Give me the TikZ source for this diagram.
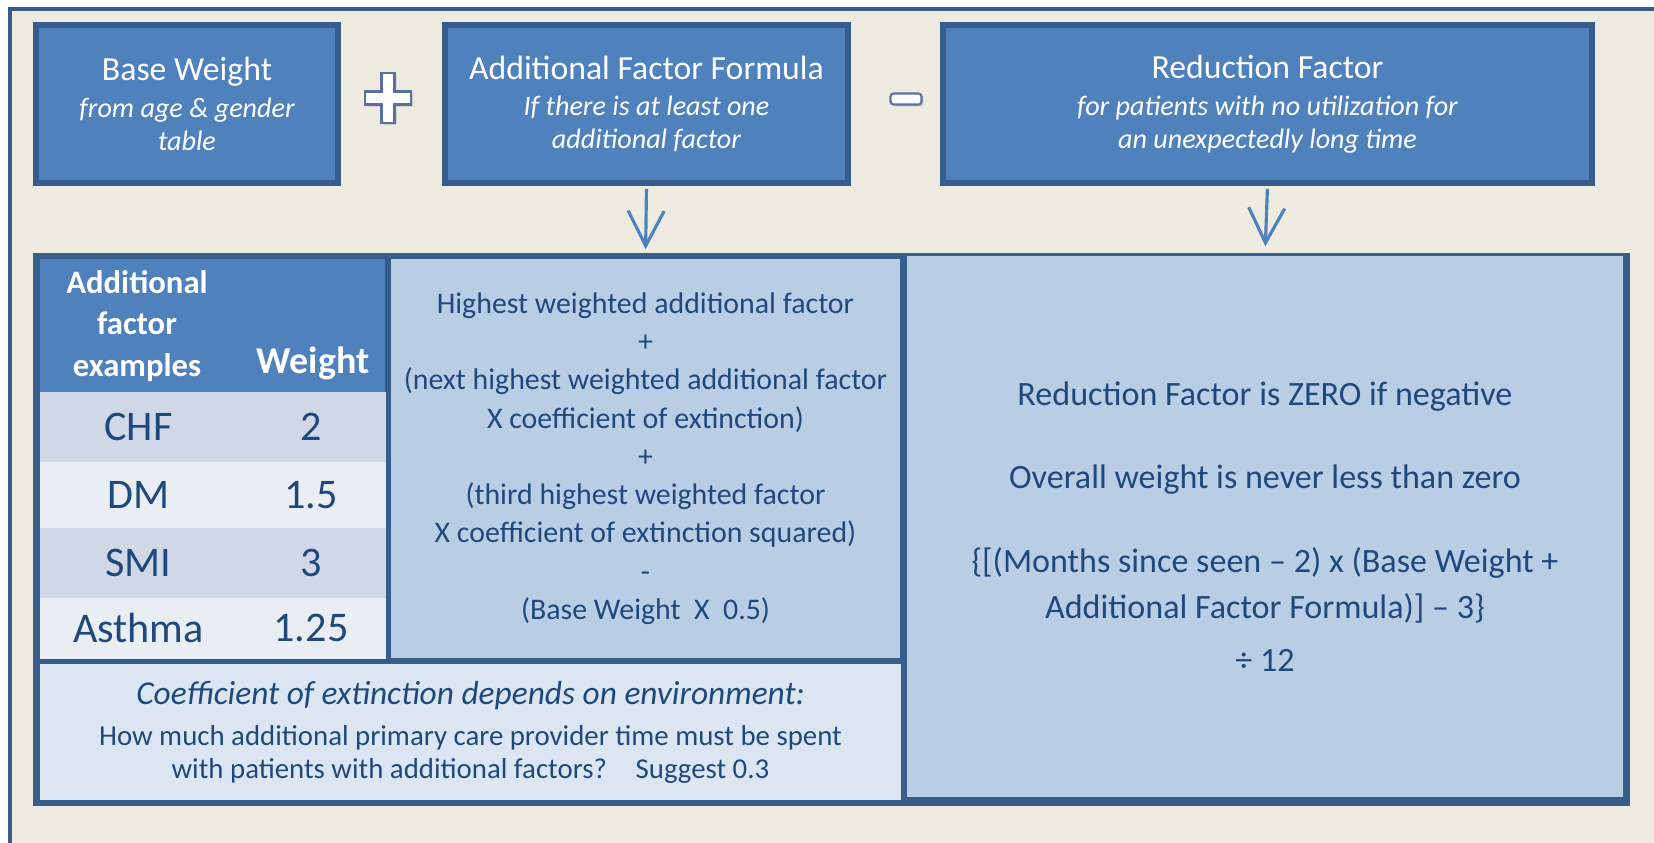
\documentclass[tikz,border=0pt]{standalone}
\usepackage{fontspec}
\setmainfont{Carlito}
\usepackage{tikz}
\usetikzlibrary{arrows.meta,shadows}

\definecolor{bgbeige}{HTML}{EEECE1}
\definecolor{edgeblue}{HTML}{385D8A}
\definecolor{boxblue}{HTML}{4F81BD}
\definecolor{paleblue}{HTML}{B9CDE5}
\definecolor{rowdark}{HTML}{D0D8E8}
\definecolor{rowlight}{HTML}{E9EDF4}
\definecolor{notefill}{HTML}{DCE6F2}
\definecolor{inkblue}{HTML}{1F497D}
\definecolor{signedge}{HTML}{5A6FA5}

\begin{document}
\begin{tikzpicture}[>={Straight Barb[length=3.5mm,width=3.6mm]},
    topbox/.style={draw=edgeblue,fill=boxblue,line width=1.7pt,text=white,align=center,
      inner sep=0pt,minimum height=1.58cm,font=\fontsize{8}{9.4}\selectfont},
    cell/.style={inner sep=0pt,text=inkblue,align=center},
    rowcell/.style={cell,font=\fontsize{12}{14}\selectfont},
    sign/.style={draw=signedge,fill=white,line width=0.6pt,
      drop shadow={shadow xshift=0.2mm,shadow yshift=-0.2mm,fill=gray!60}},
    flow/.style={->,boxblue,line width=0.9pt,shorten <=0.03cm,shorten >=0.09cm}]

    \clip (0,0) rectangle (16.54,8.42);
    \fill[white] (0,0) rectangle (16.54,8.42);
    \draw[edgeblue,fill=bgbeige,line width=1.1pt] (0.10,-0.5) rectangle (17,8.33);

    % the three terms of the weight
    \node[topbox,minimum width=3.02cm] (base) at (1.87,7.38)
      {{\fontsize{9.6}{9.4}\selectfont Base Weight}\\[1pt]
       \itshape from age \& gender\\\itshape table};
    \node[topbox,minimum width=4.03cm] (addf) at (6.465,7.38)
      {{\fontsize{9.6}{9.4}\selectfont Additional Factor Formula}\\[1pt]
       \itshape If there is at least one\\\itshape additional factor};
    \node[topbox,minimum width=6.49cm] (redf) at (12.675,7.38)
      {{\fontsize{9.6}{9.4}\selectfont Reduction Factor}\\[1pt]
       \itshape for patients with no utilization for\\\itshape an unexpectedly long time};

    \coordinate (plus) at (3.88,7.44);
    \draw[sign] ([shift={(-0.065,0.25)}]plus) -- ++(0.13,0) -- ++(0,-0.185) -- ++(0.165,0)
      -- ++(0,-0.13) -- ++(-0.165,0) -- ++(0,-0.185) -- ++(-0.13,0) -- ++(0,0.185)
      -- ++(-0.165,0) -- ++(0,0.13) -- ++(0.165,0) -- cycle;
    \coordinate (minus) at (9.06,7.43);
    \draw[sign,rounded corners=0.3mm] ([shift={(-0.155,-0.055)}]minus) rectangle ++(0.31,0.11);

    % lower panel
    \fill[edgeblue] (0.33,0.36) rectangle (16.30,5.89);

    \node[cell,fill=boxblue,minimum width=3.45cm,minimum height=1.33cm] (thead) at (2.125,5.165) {};
    \node[text=white,align=center,inner sep=0pt,font=\fontsize{9.3}{11.7}\selectfont\bfseries]
      (hfactor) at (1.37,5.16) {Additional\\factor\\examples};
    \node[text=white,inner sep=0pt,anchor=base,font=\fontsize{10.8}{12}\selectfont\bfseries]
      (hweight) at (3.13,4.69) {Weight};

    \node[rowcell,fill=rowdark,minimum width=1.97cm,minimum height=0.71cm] (chf) at (1.385,4.15) {CHF};
    \node[rowcell,fill=rowdark,minimum width=1.49cm,minimum height=0.71cm] (chfw) at (3.11,4.15) {2};
    \node[rowcell,fill=rowlight,minimum width=1.97cm,minimum height=0.67cm] (dm) at (1.385,3.47) {DM};
    \node[rowcell,fill=rowlight,minimum width=1.49cm,minimum height=0.67cm] (dmw) at (3.11,3.47) {1.5};
    \node[rowcell,fill=rowdark,minimum width=1.97cm,minimum height=0.71cm] (smi) at (1.385,2.79) {SMI};
    \node[rowcell,fill=rowdark,minimum width=1.49cm,minimum height=0.71cm] (smiw) at (3.11,2.79) {3};
    \node[rowcell,fill=rowlight,minimum width=1.97cm,minimum height=0.61cm] (asth) at (1.385,2.14) {Asthma};
    \node[rowcell,fill=rowlight,minimum width=1.49cm,minimum height=0.61cm] (asthw) at (3.11,2.14) {1.25};

    \node[cell,fill=paleblue,minimum width=5.09cm,minimum height=3.99cm,
      font=\fontsize{8.5}{10.9}\selectfont] (formula) at (6.455,3.835)
      {Highest weighted additional factor\\
       +\\
       (next highest weighted additional factor\\
       X coefficient of extinction)\\
       +\\
       (third highest weighted factor\\
       X coefficient of extinction squared)\\
       -\\
       (Base Weight~~X~~0.5)};

    \node[cell,fill=notefill,minimum width=8.61cm,minimum height=1.36cm,
      font=\fontsize{8.2}{9.3}\selectfont] (coeff) at (4.705,1.10)
      {{\fontsize{9.5}{9.3}\selectfont\itshape Coefficient of extinction depends on environment:}\\[2.5pt]
       How much additional primary care provider time must be spent\\
       with patients with additional factors?\hspace{1em}Suggest 0.3};

    \node[cell,fill=paleblue,minimum width=7.16cm,minimum height=5.41cm,
      font=\fontsize{9.7}{12.9}\selectfont] (redcell) at (12.65,3.155)
      {Reduction Factor is ZERO if negative\\[10.8pt]
       Overall weight is never less than zero\\[11pt]
       \{[(Months since seen – 2) x (Base Weight +\\
       Additional Factor Formula)] – 3\}\\[2.1pt]
       ÷ 12};

    \draw[flow] (addf.south) -- (formula.north);
    \draw[flow] (redf.south) -- (redcell.north);
\end{tikzpicture}
\end{document}
